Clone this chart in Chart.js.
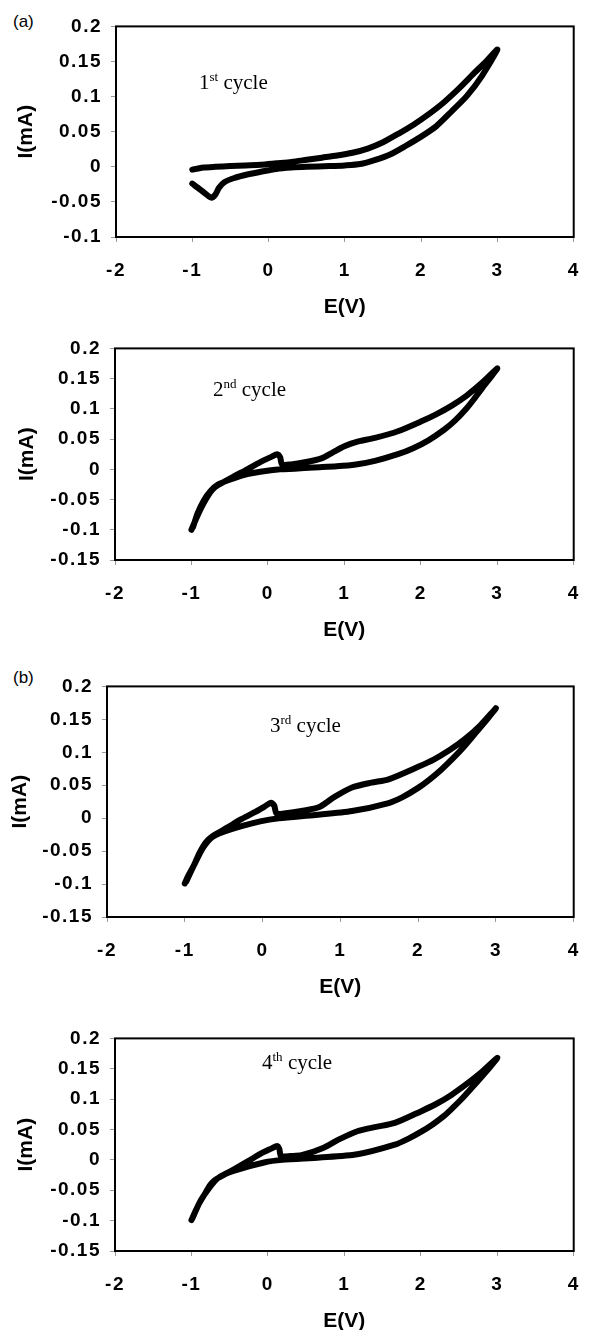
<!DOCTYPE html>
<html>
<head>
<meta charset="utf-8">
<script src="https://cdn.jsdelivr.net/npm/chart.js@4.4.1/dist/chart.umd.min.js"></script>
<style>
    body { margin: 0; width: 596px; height: 1330px; background: #fff; position: relative; overflow: hidden; }
    .panel { position: absolute; left: 0; width: 596px; }
    .cyc { position: absolute; font-family: "Liberation Serif", "Times New Roman", serif; font-size: 21px; line-height: 21px; white-space: nowrap; color: #000; z-index: 2; }
    .cyc sup { font-size: 13px; line-height: 0; vertical-align: 8px; }
    .tag { position: absolute; font-family: "Liberation Sans", Arial, sans-serif; font-size: 17px; line-height: 20px; color: #000; }
</style>
</head>
<body>
<div class="tag" style="left:13px; top:12px;">(a)</div>
<div class="tag" style="left:13px; top:668px;">(b)</div>

<div class="panel" id="p1"><canvas id="c1"></canvas></div>
<div class="panel" id="p2"><canvas id="c2"></canvas></div>
<div class="panel" id="p3"><canvas id="c3"></canvas></div>
<div class="panel" id="p4"><canvas id="c4"></canvas></div>

<div class="cyc" style="left:199px; top:72px;">1<sup>st</sup> cycle</div>
<div class="cyc" style="left:213px; top:379px;">2<sup>nd</sup> cycle</div>
<div class="cyc" style="left:270px; top:715px;">3<sup>rd</sup> cycle</div>
<div class="cyc" style="left:262px; top:1052px;">4<sup>th</sup> cycle</div>

<script>
// Dữ liệu: E (V) và I (mA) cho từng chu kỳ (quét đi rồi quét về)
const cycle1E = [-1.0, -0.9, -0.82, -0.75, -0.7, -0.65, -0.58, -0.45, -0.28, -0.1, 0.1, 0.3, 0.5, 0.8, 1.0, 1.2, 1.4, 1.6, 1.8, 2.0, 2.2, 2.4, 2.6, 2.8, 3.0,
    2.85, 2.7, 2.5, 2.3, 2.1, 1.9, 1.7, 1.5, 1.3, 1.1, 0.9, 0.7, 0.5, 0.3, 0.1, -0.1, -0.3, -0.5, -0.7, -0.85, -0.95, -1.0];
const cycle1I = [-0.024, -0.032, -0.039, -0.044, -0.040, -0.030, -0.022, -0.016, -0.011, -0.007, -0.003, -0.001, 0.000, 0.001, 0.002, 0.004, 0.010, 0.018, 0.030, 0.043, 0.058, 0.079, 0.101, 0.130, 0.167,
    0.150, 0.134, 0.112, 0.092, 0.075, 0.060, 0.047, 0.035, 0.026, 0.020, 0.016, 0.013, 0.010, 0.007, 0.005, 0.003, 0.002, 0.001, 0.000, -0.001, -0.003, -0.004];

const cycle2E = [-1.0, -0.96, -0.9, -0.84, -0.78, -0.72, -0.65, -0.45, -0.27, -0.1, 0.05, 0.12, 0.16, 0.185, 0.3, 0.5, 0.7, 0.85, 1.0, 1.15, 1.4, 1.7, 2.0, 2.2, 2.4, 2.6, 2.8, 3.0,
    2.9, 2.8, 2.7, 2.6, 2.45, 2.3, 2.1, 1.9, 1.7, 1.4, 1.15, 0.9, 0.6, 0.35, 0.16, -0.1, -0.27, -0.45, -0.65, -0.75, -0.84, -0.92, -0.98];
const cycle2I = [-0.100, -0.088, -0.071, -0.056, -0.043, -0.033, -0.026, -0.012, 0.000, 0.012, 0.021, 0.025, 0.020, 0.008, 0.008, 0.012, 0.018, 0.028, 0.038, 0.045, 0.052, 0.063, 0.079, 0.091, 0.105, 0.122, 0.143, 0.167,
    0.150, 0.134, 0.117, 0.101, 0.081, 0.065, 0.048, 0.035, 0.025, 0.014, 0.008, 0.005, 0.003, 0.001, 0.000, -0.004, -0.008, -0.015, -0.025, -0.036, -0.052, -0.073, -0.096];

const cycle3E = [-1.0, -0.95, -0.88, -0.82, -0.76, -0.7, -0.64, -0.45, -0.28, -0.1, 0.03, 0.11, 0.15, 0.18, 0.3, 0.5, 0.73, 0.92, 1.15, 1.4, 1.62, 2.0, 2.2, 2.4, 2.6, 2.8, 3.0,
    2.9, 2.75, 2.6, 2.45, 2.3, 2.15, 2.0, 1.8, 1.62, 1.15, 0.68, 0.21, -0.03, -0.41, -0.64, -0.76, -0.88, -0.98];
const cycle3I = [-0.099, -0.086, -0.071, -0.055, -0.042, -0.033, -0.027, -0.014, -0.002, 0.009, 0.018, 0.0235, 0.019, 0.007, 0.0075, 0.011, 0.017, 0.032, 0.0466, 0.054, 0.059, 0.078, 0.089, 0.103, 0.120, 0.141, 0.167,
    0.152, 0.131, 0.110, 0.091, 0.074, 0.059, 0.046, 0.032, 0.023, 0.0108, 0.0049, 0.000, -0.0049, -0.017, -0.028, -0.044, -0.071, -0.096];

const cycle4E = [-1.0, -0.95, -0.89, -0.82, -0.76, -0.7, -0.64, -0.45, -0.27, -0.1, 0.05, 0.12, 0.15, 0.17, 0.3, 0.44, 0.73, 0.93, 1.17, 1.4, 1.66, 2.0, 2.2, 2.4, 2.6, 2.8, 3.0,
    2.9, 2.79, 2.67, 2.54, 2.42, 2.3, 2.15, 2.0, 1.84, 1.66, 1.17, 0.68, 0.19, -0.05, -0.45, -0.64, -0.76, -0.89, -0.99];
const cycle4I = [-0.099, -0.085, -0.0695, -0.055, -0.042, -0.034, -0.029, -0.016, -0.003, 0.010, 0.019, 0.023, 0.018, 0.0065, 0.0065, 0.0076, 0.020, 0.0337, 0.0472, 0.054, 0.0608, 0.0798, 0.092, 0.107, 0.125, 0.145, 0.168,
    0.152, 0.136, 0.119, 0.101, 0.086, 0.072, 0.058, 0.046, 0.035, 0.025, 0.0092, 0.0038, 0.000, -0.0043, -0.018, -0.0288, -0.045, -0.0695, -0.097];

// Trục
const xMin = -2, xMax = 4, xStep = 1;
const yMax = 0.2, yStep = 0.05;
const yMinPanel = [-0.1, -0.15, -0.15, -0.15];
const xTitle = 'E(V)';
const yTitle = 'I(mA)';

const PAD_TOP = 15;
const X_AXIS_H = 83;

// Khung vẽ (pixel) cho từng ô
const boxes = [
    { l: 116, r: 583, t: 21, b: 237, yTitleX: 26 },
    { l: 115, r: 582, t: 343, b: 560, yTitleX: 27 },
    { l: 107, r: 590, t: 681, b: 917, yTitleX: 20 },
    { l: 115, r: 581, t: 1033, b: 1251, yTitleX: 26 }
];

const tickFont = { family: '"Liberation Sans", Arial, sans-serif', size: 19, weight: 'bold' };
const titleFont = { family: '"Liberation Sans", Arial, sans-serif', size: 21, weight: 'bold' };

// Plugin: khung đen quanh vùng đồ thị; chữ số trên trục giãn nhẹ, tiêu đề thì không
const framePlugin = {
    id: 'frame',
    beforeDraw(chart) {
        chart.ctx.letterSpacing = '0px';
    },
    afterDatasetsDraw(chart) {
        chart.ctx.letterSpacing = '1.5px';
    },
    afterDraw(chart) {
        const a = chart.chartArea;
        const ctx = chart.ctx;
        ctx.save();
        ctx.strokeStyle = '#000';
        ctx.lineWidth = 2;
        ctx.strokeRect(a.left, a.top, a.right - a.left, a.bottom - a.top);
        ctx.restore();
    }
};

function veDoThi(idx, E, I) {
    const box = boxes[idx];
    const panel = document.getElementById('p' + (idx + 1));
    panel.style.top = (box.t - PAD_TOP) + 'px';
    panel.style.height = (PAD_TOP + (box.b - box.t) + X_AXIS_H) + 'px';

    const points = E.map((e, i) => ({ x: e, y: I[i] }));
    const ctx = document.getElementById('c' + (idx + 1)).getContext('2d');

    new Chart(ctx, {
        type: 'scatter',
        data: {
            datasets: [{
                data: points,
                showLine: true,
                borderColor: '#000',
                borderWidth: 6,
                pointRadius: 0,
                tension: 0.25,
                borderCapStyle: 'round',
                borderJoinStyle: 'round'
            }]
        },
        options: {
            responsive: true,
            maintainAspectRatio: false,
            animation: false,
            layout: { padding: { top: PAD_TOP, right: 596 - box.r, left: 0, bottom: 0 } },
            plugins: { legend: { display: false }, tooltip: { enabled: false } },
            scales: {
                x: {
                    type: 'linear',
                    min: xMin, max: xMax,
                    ticks: { stepSize: xStep, color: '#000', font: tickFont, padding: 17, autoSkip: false, maxRotation: 0, z: 1 },
                    grid: { drawOnChartArea: false, drawTicks: true, tickLength: 5, color: '#999' },
                    border: { display: false },
                    title: { display: true, text: xTitle, color: '#000', font: titleFont, padding: 0 },
                    afterFit: function (scale) { scale.height = X_AXIS_H; }
                },
                y: {
                    type: 'linear',
                    min: yMinPanel[idx], max: yMax,
                    ticks: {
                        stepSize: yStep, color: '#000', font: tickFont, padding: 9, z: 1,
                        callback: function (v) { return String(parseFloat(v.toFixed(2))); }
                    },
                    grid: { drawOnChartArea: false, drawTicks: true, tickLength: 5, color: '#999' },
                    border: { display: false },
                    title: { display: true, text: yTitle, color: '#000', font: titleFont, padding: { top: box.yTitleX - 12.6, bottom: 0 } },
                    afterFit: function (scale) { scale.width = box.l; }
                }
            }
        },
        plugins: [framePlugin]
    });
}

veDoThi(0, cycle1E, cycle1I);
veDoThi(1, cycle2E, cycle2I);
veDoThi(2, cycle3E, cycle3I);
veDoThi(3, cycle4E, cycle4I);
</script>
</body>
</html>
